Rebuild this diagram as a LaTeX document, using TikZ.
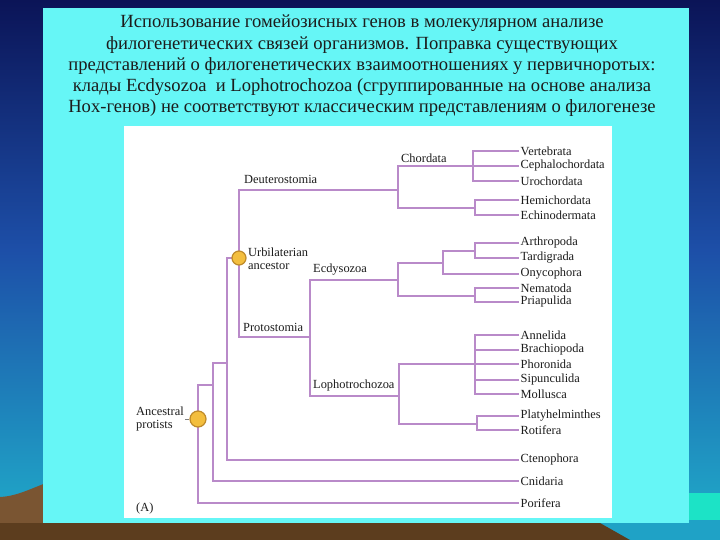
\documentclass[tikz,border=0pt]{standalone}
\usepackage{fontspec}
\setmainfont{Liberation Serif}
\usetikzlibrary{positioning,calc,backgrounds}

\definecolor{navy}{HTML}{0B1457}
\definecolor{skyblue}{HTML}{1D4FA8}
\definecolor{seablue}{HTML}{1FA2C6}
\definecolor{mint}{HTML}{1CE3C6}
\definecolor{earth}{HTML}{5C3D1E}
\definecolor{hill}{HTML}{7A5532}
\definecolor{panel}{HTML}{66F6F6}
\definecolor{lilac}{HTML}{B98AC9}
\definecolor{gold}{HTML}{F3BE3E}
\definecolor{goldedge}{HTML}{BE8A2A}
\definecolor{ink}{HTML}{1C1C1C}

\begin{document}
\begin{tikzpicture}[x=1pt, y=-1pt, align=center]

%local definitions
\tikzstyle{Branch} = [draw=lilac, line width=2pt]
\tikzstyle{Taxon} = [anchor=west, inner sep=1.5pt, text=ink, font=\fontsize{12.4}{13}\selectfont]
\tikzstyle{Clade} = [anchor=west, inner sep=0pt, text=ink, align=left, font=\fontsize{12.4}{13.5}\selectfont]
\tikzstyle{Ancestor} = [draw=goldedge, fill=gold, circle, line width=1.2pt, minimum size=14pt, inner sep=0pt]

\useasboundingbox (0,0) rectangle (720,540);

%background
\shade[top color=navy, bottom color=seablue, middle color=skyblue] (0,0) rectangle (720,500);
\fill[mint] (640,493) rectangle (720,540);
\fill[seablue] (560,520) rectangle (720,540);
\fill[hill] (0,497) .. controls (20,496) and (35,486) .. (60,478) -- (60,540) -- (0,540) -- cycle;
\fill[earth] (0,523) -- (600,523) -- (630,540) -- (0,540) -- cycle;

%panels
\fill[panel] (43,8) rectangle (689,523);
\fill[white] (124,126) rectangle (612,518);

%title
\node[text=ink, font=\fontsize{18.6}{21.3}\selectfont] (title) at (362,66)
  {Использование гомейозисных генов в молекулярном анализе\\
   филогенетических связей организмов. Поправка существующих\\
   представлений о филогенетических взаимоотношениях у первичноротых:\\
   клады Ecdysozoa \ и Lophotrochozoa (сгруппированные на основе анализа\\
   Hox-генов) не соответствуют классическим представлениям о филогенезе};

%taxa
\foreach \name/\y in {Vertebrata/151, Cephalochordata/166, Urochordata/181,
    Hemichordata/200, Echinodermata/215, Arthropoda/243, Tardigrada/258,
    Onycophora/274, Nematoda/288, Priapulida/302, Annelida/335,
    Brachiopoda/350, Phoronida/364, Sipunculida/380, Mollusca/394,
    Platyhelminthes/416, Rotifera/430, Ctenophora/460, Cnidaria/481,
    Porifera/503}
  \node[Taxon] (\name) at (519,\y) {\name};

%branch points
\coordinate (chord) at (473,166);
\coordinate (ambul) at (475,208);
\coordinate (deut) at (398,190);
\coordinate (tact) at (475,251);
\coordinate (panar) at (443,263);
\coordinate (cycl) at (475,296);
\coordinate (ecdy) at (398,280);
\coordinate (tro) at (475,364);
\coordinate (platy) at (477,424);
\coordinate (lopho) at (399,396);
\coordinate (protoL) at (239,337);
\coordinate (protoR) at (310,337);
\coordinate (bilat) at (227,258);
\coordinate (eumet) at (213,363);
\coordinate (basal) at (198,385);

%connections
\draw[Branch] (Vertebrata.west) -| (chord) |- (Urochordata.west);
\draw[Branch] (Cephalochordata.west) -- (chord);
\draw[Branch] (Hemichordata.west) -| (ambul) |- (Echinodermata.west);
\draw[Branch] (chord) -| (deut) |- (ambul);
\draw[Branch] (Arthropoda.west) -| (tact) |- (Tardigrada.west);
\draw[Branch] (tact) -| (panar) |- (Onycophora.west);
\draw[Branch] (Nematoda.west) -| (cycl) |- (Priapulida.west);
\draw[Branch] (panar) -| (ecdy) |- (cycl);
\draw[Branch] (Annelida.west) -| (tro) |- (Mollusca.west);
\draw[Branch] (Brachiopoda.west) -- (Brachiopoda.west -| tro);
\draw[Branch] (Phoronida.west) -- (tro);
\draw[Branch] (Sipunculida.west) -- (Sipunculida.west -| tro);
\draw[Branch] (Platyhelminthes.west) -| (platy) |- (Rotifera.west);
\draw[Branch] (tro) -| (lopho) |- (platy);
\draw[Branch] (ecdy) -| (protoR) |- (lopho);
\draw[Branch] (deut) -| (protoL) -- (protoR);
\draw[Branch] (Ctenophora.west) -| (bilat) -- (bilat -| protoL);
\draw[Branch] (Cnidaria.west) -| (eumet) -- (eumet -| bilat);
\draw[Branch] (Porifera.west) -| (basal) -- (basal -| eumet);

%ancestors
\node[Ancestor] (urbil) at (239,258) {};
\node[Ancestor, minimum size=16pt] (protists) at (198,419) {};

%clade names
\node[Clade] (chordLbl) at (401,158) {Chordata};
\node[Clade] (deutLbl) at (244,179) {Deuterostomia};
\node[Clade] (urbilLbl) at (248,259) {Urbilaterian\\ancestor};
\node[Clade] (ecdyLbl) at (313,270) {Ecdysozoa};
\node[Clade] (protoLbl) at (243,327) {Protostomia};
\node[Clade] (lophoLbl) at (313,386) {Lophotrochozoa};
\node[Clade] (protistsLbl) at (136,419) {Ancestral\\protists};
\node[Clade] (panelLbl) at (136,509) {(A)};
\draw[gray, line width=0.8pt] (protistsLbl.east) ++(1,0) -- (protists.west);

\end{tikzpicture}
\end{document}
